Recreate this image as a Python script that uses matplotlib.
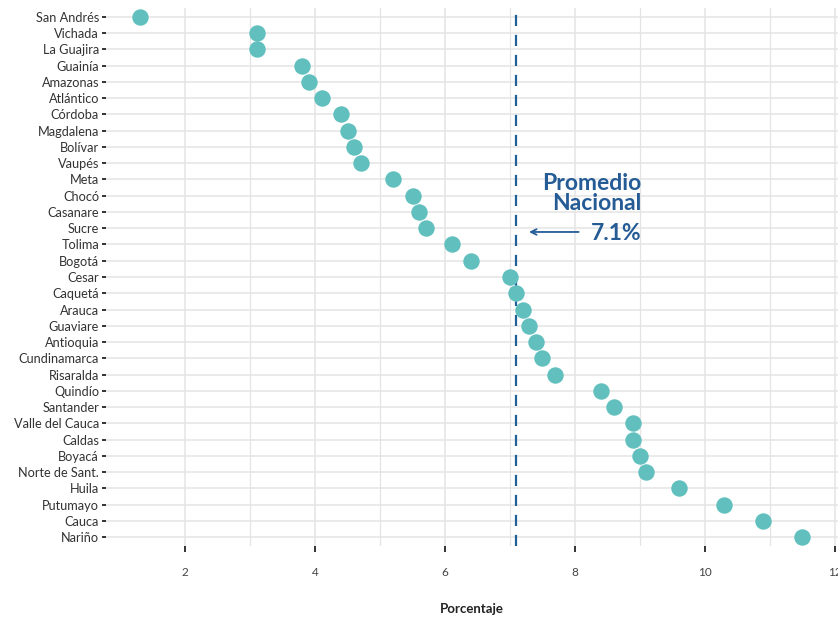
import matplotlib
matplotlib.use("Agg")
import matplotlib.pyplot as plt
import numpy as np

plt.rcParams['font.family'] = ['Lato', 'DejaVu Sans']

# departamentos, de menor a mayor porcentaje
departamentos = ["San Andrés", "Vichada", "La Guajira", "Guainía", "Amazonas",
                 "Atlántico", "Córdoba", "Magdalena", "Bolívar", "Vaupés",
                 "Meta", "Chocó", "Casanare", "Sucre", "Tolima", "Bogotá",
                 "Cesar", "Caquetá", "Arauca", "Guaviare", "Antioquia",
                 "Cundinamarca", "Risaralda", "Quindío", "Santander",
                 "Valle del Cauca", "Caldas", "Boyacá", "Norte de Sant.",
                 "Huila", "Putumayo", "Cauca", "Nariño"]
porcentaje = [1.3, 3.1, 3.1, 3.8, 3.9, 4.1, 4.4, 4.5, 4.6, 4.7,
              5.2, 5.5, 5.6, 5.7, 6.1, 6.4, 7.0, 7.1, 7.2, 7.3,
              7.4, 7.5, 7.7, 8.4, 8.6, 8.9, 8.9, 9.0, 9.1, 9.6,
              10.3, 10.9, 11.5]
promedio = 7.1
x_ticks = [2, 4, 6, 8, 10, 12]

azul = "#255C96"
verde = "#61C0BE"

fig = plt.figure(figsize=(8.38, 6.17), dpi=100)
ax = fig.add_axes([106 / 838, 71 / 617, 732 / 838, 538 / 617])

y = np.arange(len(departamentos))

# grilla tipo ggplot
for v in np.arange(2, 12.5, 1):
    ax.axvline(v, color="#e4e4e4", lw=1.1 if v % 2 == 0 else 0.9, zorder=0)
for yy in y:
    ax.axhline(yy, color="#e4e4e4", lw=1.1, zorder=0)

ax.axvline(promedio, color="#1f6196", lw=1.6, ls=(0, (5, 4)), zorder=1)
ax.scatter(porcentaje, y, s=140, color=verde, zorder=3, linewidths=0)

ax.set_xlim(0.78, 12.05)
ax.set_ylim(len(departamentos) - 0.45, -0.55)
ax.set_yticks(y)
ax.set_yticklabels(departamentos, fontsize=9.2, color="#333333")
ax.set_xticks(x_ticks)
ax.set_xticklabels([str(t) for t in x_ticks], fontsize=8.5, color="#444444")
ax.tick_params(axis="y", length=3, width=1.4, color="#333333", pad=2)
ax.tick_params(axis="x", length=4, width=1.4, color="#333333", pad=11)
for s in ax.spines.values():
    s.set_visible(False)
ax.set_xlabel("Porcentaje", fontsize=9.5, fontweight="bold", color="#222222", labelpad=18)

# anotación del promedio nacional
ax.text(9.02, 10.85, "Promedio\nNacional", ha="right", va="center", fontsize=16.5,
        fontweight="bold", color=azul, linespacing=0.92)
ax.text(9.02, 13.35, f"{promedio}%", ha="right", va="center", fontsize=16.5,
        fontweight="bold", color=azul)
ax.annotate("", xy=(7.25, 13.23), xytext=(8.1, 13.23),
            arrowprops=dict(arrowstyle="->", color=azul, lw=1.3))

fig.savefig("out.png", dpi=100)
